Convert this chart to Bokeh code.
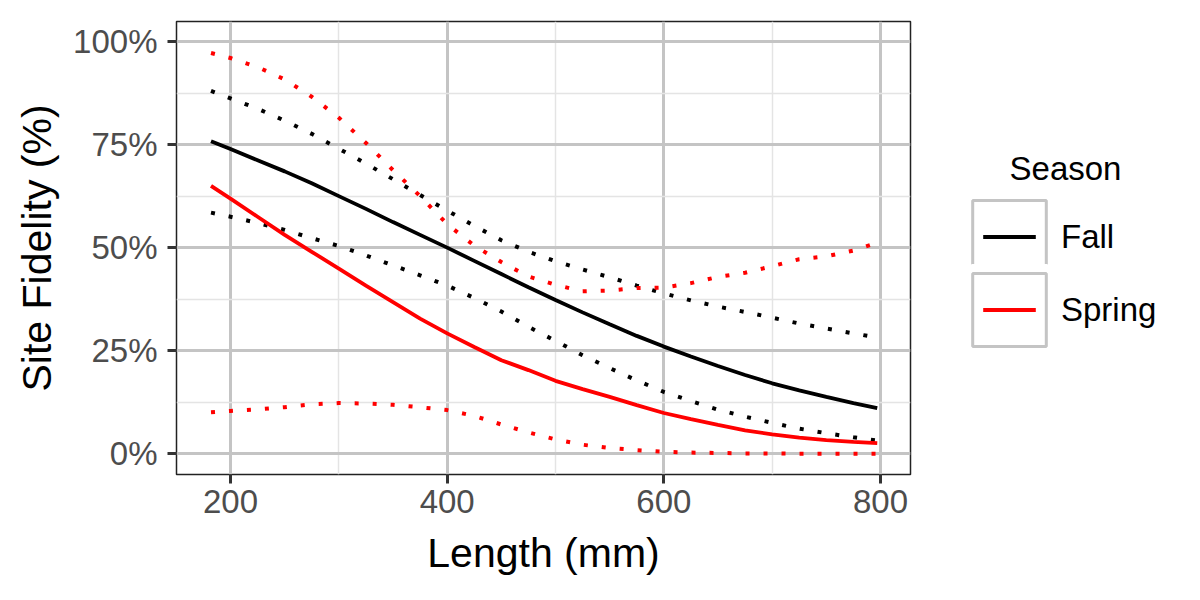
from bokeh.plotting import figure
from bokeh.layouts import row
from bokeh.models import (Range1d, FixedTicker, PrintfTickFormatter, Legend,
                          LegendItem, Label)
from bokeh.embed import file_html
from bokeh.resources import INLINE

# ---- data ----
length_mm = [182, 200, 225, 250, 275, 300, 325, 350, 375, 400, 425, 450, 475,
             500, 525, 550, 575, 600, 625, 650, 675, 700, 725, 750, 775, 797]

fall_fit = [75.8, 73.9, 71.2, 68.5, 65.6, 62.5, 59.4, 56.2, 53.1, 50.0, 46.8,
            43.6, 40.4, 37.3, 34.3, 31.4, 28.6, 26.0, 23.6, 21.3, 19.1, 17.1,
            15.4, 13.8, 12.3, 11.1]
fall_upper = [88.0, 86.2, 83.7, 80.8, 77.6, 74.0, 70.4, 66.6, 62.8, 59.0, 55.3,
              51.8, 49.0, 46.7, 44.7, 42.8, 40.8, 38.9, 37.2, 35.7, 34.4, 33.0,
              31.6, 30.4, 29.2, 28.2]
fall_lower = [58.5, 57.5, 56.0, 54.3, 52.3, 50.4, 48.1, 45.7, 43.3, 40.8, 37.8,
              34.5, 30.8, 27.4, 23.9, 20.8, 17.8, 15.0, 12.8, 10.7, 9.0, 7.5,
              6.1, 5.0, 4.0, 3.2]

spring_fit = [65.0, 61.9, 57.5, 53.1, 49.0, 44.9, 40.8, 36.8, 32.8, 29.2, 25.9,
              22.7, 20.3, 17.7, 15.7, 13.8, 11.8, 9.9, 8.4, 7.0, 5.7, 4.7, 3.9,
              3.3, 2.9, 2.6]
spring_upper = [97.2, 96.0, 93.8, 90.8, 86.6, 81.5, 75.4, 68.8, 62.5, 55.7,
                50.5, 46.5, 43.0, 41.0, 39.4, 39.6, 40.2, 40.3, 41.4, 42.9,
                43.9, 45.5, 47.2, 47.9, 49.3, 51.2]
spring_lower = [10.1, 10.4, 10.8, 11.3, 12.0, 12.3, 12.2, 11.9, 11.3, 10.6, 9.2,
                7.1, 5.2, 3.5, 2.2, 1.4, 0.9, 0.5, 0.3, 0.2, 0.1, 0.1, 0.0, 0.0,
                0.0, 0.0]

seasons = ["Fall", "Spring"]
season_colors = ["#000000", "#FF0000"]
legend_title = "Season"
x_ticks = [200, 400, 600, 800]
x_minor = [100, 300, 500, 700, 900]
y_ticks = [0, 25, 50, 75, 100]
y_minor = [12.5, 37.5, 62.5, 87.5]

FONT = "Liberation Sans"
DOT = "4 14"
FIT_W = 3.8
CI_W = 4

# ---------------- main panel ----------------
p = figure(width=920, height=600, output_backend="svg", toolbar_location=None,
           x_range=Range1d(150.15, 827.7), y_range=Range1d(-5.02, 104.85),
           min_border_left=176, min_border_right=10,
           min_border_top=21, min_border_bottom=126,
           x_axis_label="Length (mm)", y_axis_label="Site Fidelity (%)")

p.background_fill_color = "white"
p.border_fill_color = "white"
p.outline_line_color = "#222222"
p.outline_line_width = 1.5

xt = FixedTicker(ticks=x_ticks, minor_ticks=x_minor)
yt = FixedTicker(ticks=y_ticks, minor_ticks=y_minor)
p.xaxis.ticker = xt
p.yaxis.ticker = yt
p.yaxis.formatter = PrintfTickFormatter(format="%d%%")
p.xgrid.ticker = xt
p.ygrid.ticker = yt

for g in (p.xgrid, p.ygrid):
    g.grid_line_color = "#C4C4C4"
    g.grid_line_width = 3
    g.minor_grid_line_color = "#E4E4E4"
    g.minor_grid_line_width = 1.5

for ax in p.axis:
    ax.axis_line_color = None
    ax.major_tick_line_color = "#333333"
    ax.major_tick_line_width = 3
    ax.major_tick_out = 9
    ax.major_tick_in = 0
    ax.minor_tick_line_color = None
    ax.major_label_text_font = FONT
    ax.major_label_text_font_size = "33px"
    ax.major_label_text_color = "#4D4D4D"
    ax.axis_label_text_font = FONT
    ax.axis_label_text_font_size = "41px"
    ax.axis_label_text_font_style = "normal"
    ax.axis_label_text_color = "#000000"

p.xaxis.major_label_standoff = 6
p.xaxis.axis_label_standoff = 14
p.yaxis.major_label_standoff = 10
p.yaxis.axis_label_standoff = 10

series = [(fall_fit, fall_upper, fall_lower), (spring_fit, spring_upper, spring_lower)]
for (fit, up, lo), col in zip(series, season_colors):
    p.line(length_mm, fit, line_color=col, line_width=FIT_W)
    p.line(length_mm, up, line_color=col, line_width=CI_W, line_dash=DOT)
    p.line(length_mm, lo, line_color=col, line_width=CI_W, line_dash=DOT)

# ---------------- legend panel ----------------
# frame aligned with the main panel; y measured in page pixels from the top,
# x measured from the right edge of the page (data of the series falls outside
# this panel's ranges, so only the legend keys show)
lg = figure(width=280, height=600, output_backend="svg", toolbar_location=None,
            x_range=Range1d(-280, 0), y_range=Range1d(474, 21),
            min_border_left=0, min_border_right=0,
            min_border_top=21, min_border_bottom=126)
lg.axis.visible = False
lg.grid.visible = False
lg.outline_line_color = None
lg.background_fill_color = "white"
lg.border_fill_color = "white"

box_l, box_r = [length_mm[0]], [length_mm[-1]]
box_b, box_t = [y_ticks[0]], [y_ticks[-1]]
white_box = lg.quad(left=box_l, right=box_r, bottom=box_b, top=box_t,
                    fill_color=None, line_color="white", line_width=21)
gray_box = lg.quad(left=box_l, right=box_r, bottom=box_b, top=box_t,
                   fill_color=None, line_color="#C4C4C4", line_width=3)

legend_y = [192, 119]
for (fit, up, lo), col, name, ly in zip(series, season_colors, seasons, legend_y):
    k_fit = lg.line(length_mm, fit, line_color=col, line_width=FIT_W)
    k_dot = lg.line(length_mm, up, line_color=col, line_width=CI_W, line_dash=DOT)
    item = LegendItem(label=name, renderers=[k_fit, k_dot, white_box, gray_box])
    leg = Legend(items=[item], location=(43, ly), glyph_width=92, glyph_height=91,
                 spacing=0, padding=0, margin=0, label_standoff=6,
                 border_line_color=None, background_fill_alpha=0,
                 label_text_font=FONT, label_text_font_size="33px",
                 label_text_color="#000000")
    lg.add_layout(leg)

title_lbl = Label(x=-135, y=168, text=legend_title,
                  text_align="center", text_baseline="middle",
                  text_font=FONT, text_font_size="33px", text_color="#000000")
lg.add_layout(title_lbl)

layout = row(p, lg)
open("out.html", "w").write(file_html(layout, INLINE))
